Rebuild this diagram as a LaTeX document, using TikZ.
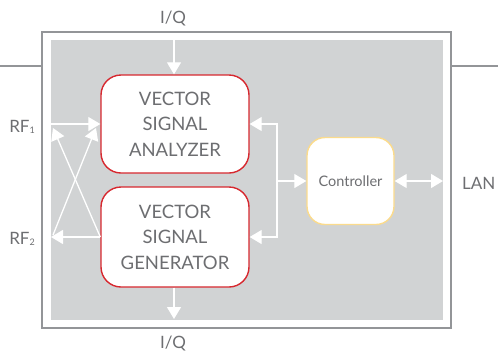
\documentclass[tikz,border=0pt]{standalone}
\usepackage{fontspec}
\setmainfont{Lato}
\usetikzlibrary{arrows.meta}
\definecolor{txt}{HTML}{6D6E71}
\definecolor{panel}{HTML}{D1D3D4}
\definecolor{framec}{HTML}{939598}
\definecolor{redb}{HTML}{D7282F}
\definecolor{yelb}{HTML}{FBDB8C}
\newcommand{\lowsub}[1]{\raisebox{-0.1ex}{\fontsize{9}{10}\selectfont #1}}
\begin{document}
\begin{tikzpicture}[x=1pt,y=-1pt,
  lbl/.style={text=txt,font=\fontsize{17}{19}\selectfont,inner sep=0pt},
  block/.style={draw=redb,line width=1.4pt,fill=white,rounded corners=20pt,
    minimum width=148pt,text=txt,align=center,
    font=\fontsize{18.5}{25.5}\selectfont},
  ctrlbox/.style={draw=yelb,line width=1.4pt,fill=white,rounded corners=18pt,
    minimum width=87pt,minimum height=87pt,text=txt,font=\fontsize{14.5}{16}\selectfont},
  arr/.style={draw=white,line width=1.3pt,-{Triangle[length=12pt,width=14pt]}},
  darr/.style={draw=white,line width=1.3pt,{Triangle[length=12pt,width=14pt]}-{Triangle[length=12pt,width=14pt]}},
  link/.style={draw=framec,line width=1.4pt}]
\useasboundingbox (0,0) rectangle (498,354);
\draw[link,fill=white] (42,32) rectangle (451,328);
\fill[panel] (51,40) rectangle (443,320);
\coordinate (lnl) at (0,66);
\coordinate (lnlr) at (42,66);
\coordinate (lnr) at (451,66);
\coordinate (lnrr) at (498,66);
\draw[link] (lnl) -- (lnlr);
\draw[link] (lnr) -- (lnrr);

\node[block,minimum height=98pt] (vsa) at (175,124) {VECTOR\\SIGNAL\\ANALYZER};
\node[block,minimum height=100pt] (vsg) at (175,237) {VECTOR\\SIGNAL\\GENERATOR};
\node[ctrlbox] (ctrl) at (350.5,181) {Controller};

\node[lbl] (iqt) at (173,18) {I/Q};
\node[lbl] (iqb) at (173,343) {I/Q};
\node[lbl] (rf1) at (22,127) {RF\lowsub{1}};
\node[lbl] (rf2) at (22,239) {RF\lowsub{2}};
\node[lbl,anchor=west] (lan) at (462,183) {LAN};

\coordinate (iqin) at (174,40);
\coordinate (iqout) at (174,319);
\draw[arr] (iqin) -- (vsa.north -| iqin);
\draw[arr] (vsg.south -| iqout) -- (iqout);

\coordinate (p1) at (51,124);
\coordinate (p2) at (51,237);
\coordinate (x1) at (53,128);
\coordinate (x2) at (96,128);
\coordinate (q2) at (53,235);
\draw[arr] (p1) -- (vsa.west);
\draw[arr] (vsg.west) -- (p2);
\draw[arr] (vsg.west) -- (x1);
\draw[arr] (q2) -- (x2);

\coordinate (bus) at (277,181);
\draw[arr] (bus) |- (vsa.east);
\draw[arr] (bus) |- (vsg.east);
\draw[arr] (bus) -- (ctrl.west);
\coordinate (lanp) at (443,181);
\draw[darr] (ctrl.east) -- (lanp);
\end{tikzpicture}
\end{document}
